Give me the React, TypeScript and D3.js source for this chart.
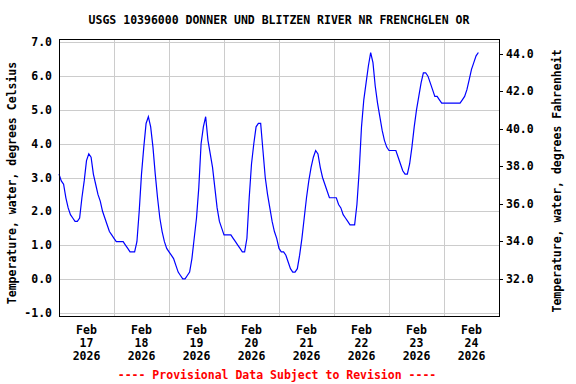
import React from "react";
import * as d3 from "d3";

const title = "USGS 10396000 DONNER UND BLITZEN RIVER NR FRENCHGLEN OR";
const startDate = new Date(2026, 1, 17, 0, 0);
const endDate = new Date(2026, 1, 25, 0, 0);
const dayLabels = ["17", "18", "19", "20", "21", "22", "23", "24"];
const celsiusTicks = [-1, 0, 1, 2, 3, 4, 5, 6, 7];
const fahrenheitTicks = [32, 34, 36, 38, 40, 42, 44];

// hourly water temperature, degrees Celsius
const feb17 = [3.1, 2.9, 2.8, 2.4, 2.1, 1.9, 1.8, 1.7, 1.7, 1.8, 2.4, 2.9, 3.5, 3.7, 3.6, 3.1, 2.8, 2.5, 2.3, 2.0, 1.8, 1.6, 1.4, 1.3];
const feb18 = [1.2, 1.1, 1.1, 1.1, 1.1, 1.0, 0.9, 0.8, 0.8, 0.8, 1.1, 2.0, 3.1, 3.9, 4.6, 4.8, 4.5, 3.9, 3.1, 2.4, 1.8, 1.4, 1.1, 0.9];
const feb19 = [0.8, 0.7, 0.6, 0.4, 0.2, 0.1, 0.0, 0.0, 0.1, 0.2, 0.6, 1.2, 1.8, 2.7, 4.0, 4.5, 4.8, 4.1, 3.7, 3.3, 2.7, 2.1, 1.7, 1.5];
const feb20 = [1.3, 1.3, 1.3, 1.3, 1.2, 1.1, 1.0, 0.9, 0.8, 0.8, 1.2, 2.4, 3.4, 4.0, 4.5, 4.6, 4.6, 3.8, 3.0, 2.5, 2.1, 1.7, 1.4, 1.2];
const feb21 = [0.9, 0.8, 0.8, 0.7, 0.5, 0.3, 0.2, 0.2, 0.3, 0.7, 1.2, 1.8, 2.4, 2.9, 3.3, 3.6, 3.8, 3.7, 3.3, 3.0, 2.8, 2.6, 2.4, 2.4];
const feb22 = [2.4, 2.4, 2.2, 2.1, 1.9, 1.8, 1.7, 1.6, 1.6, 1.6, 2.2, 3.2, 4.5, 5.3, 5.8, 6.3, 6.7, 6.4, 5.7, 5.2, 4.8, 4.4, 4.1, 3.9];
const feb23 = [3.8, 3.8, 3.8, 3.8, 3.6, 3.4, 3.2, 3.1, 3.1, 3.4, 3.9, 4.5, 5.0, 5.4, 5.8, 6.1, 6.1, 6.0, 5.8, 5.6, 5.4, 5.4, 5.3, 5.2];
const feb24 = [5.2, 5.2, 5.2, 5.2, 5.2, 5.2, 5.2, 5.2, 5.3, 5.4, 5.6, 5.9, 6.2, 6.4, 6.6, 6.7];

const days = [feb17, feb18, feb19, feb20, feb21, feb22, feb23, feb24];

const W = 576;
const H = 384;
const left = 59;
const right = 499;
const top = 39;
const bottom = 316;
const FONT = "'DejaVu Sans Mono', monospace";

export default function App() {
  const x = d3.scaleTime().domain([startDate, endDate]).range([left, right]);
  const y = d3.scaleLinear().domain([-1.1, 7.1]).range([bottom, top]);
  const yF = d3.scaleLinear().domain([-1.1 * 1.8 + 32, 7.1 * 1.8 + 32]).range([bottom, top]);

  const points: [Date, number][] = [];
  days.forEach((vals, di) => {
    vals.forEach((v, h) => {
      points.push([d3.timeHour.offset(d3.timeDay.offset(startDate, di), h), v]);
    });
  });

  const line = d3
    .line<[Date, number]>()
    .x((d) => x(d[0]))
    .y((d) => y(d[1]))
    .curve(d3.curveLinear);

  const dayTicks = d3.timeDay.range(startDate, d3.timeDay.offset(endDate, 1));
  const noonTicks = dayLabels.map((_, i) => d3.timeHour.offset(d3.timeDay.offset(startDate, i), 12));

  const textStyle = { fontFamily: FONT, fontWeight: "bold" as const, fontSize: "11.5px" };

  return (
    <div style={{ position: "absolute", left: 0, top: 0 }}>
      <svg width={W} height={H} style={{ display: "block", background: "#fff" }}>
        <rect x={0} y={0} width={W} height={H} fill="#fff" />
        {/* grid */}
        {celsiusTicks.map((t) => (
          <line key={"h" + t} x1={left} x2={right} y1={Math.round(y(t)) + 0.5} y2={Math.round(y(t)) + 0.5} stroke="#cccccc" strokeWidth={1} />
        ))}
        {dayTicks.map((d, i) => (
          <line key={"v" + i} x1={Math.round(x(d)) + 0.5} x2={Math.round(x(d)) + 0.5} y1={top} y2={bottom} stroke="#cccccc" strokeWidth={1} />
        ))}
        {/* data */}
        <path d={line(points) || ""} fill="none" stroke="#0000ff" strokeWidth={1.2} />
        {/* frame */}
        <rect x={left + 0.5} y={top + 0.5} width={right - left} height={bottom - top} fill="none" stroke="#000" strokeWidth={1} />
        {/* left axis labels */}
        {celsiusTicks.map((t) => (
          <text key={"lc" + t} x={52} y={y(t) + 4} textAnchor="end" style={textStyle} fill="#000">
            {t.toFixed(1)}
          </text>
        ))}
        {/* right axis */}
        {fahrenheitTicks.map((t) => (
          <g key={"rf" + t}>
            <line x1={right} x2={right + 4} y1={Math.round(yF(t)) + 0.5} y2={Math.round(yF(t)) + 0.5} stroke="#000" />
            <text x={506} y={yF(t) + 4} textAnchor="start" style={textStyle} fill="#000">
              {t.toFixed(1)}
            </text>
          </g>
        ))}
        {/* x labels */}
        {noonTicks.map((d, i) => (
          <g key={"xl" + i}>
            <text x={x(d)} y={334} textAnchor="middle" style={textStyle} fill="#000">Feb</text>
            <text x={x(d)} y={347} textAnchor="middle" style={textStyle} fill="#000">{dayLabels[i]}</text>
            <text x={x(d)} y={360} textAnchor="middle" style={textStyle} fill="#000">2026</text>
          </g>
        ))}
        {/* titles */}
        <text x={(left + right) / 2} y={24} textAnchor="middle" style={textStyle} fill="#000">{title}</text>
        <text transform={`translate(16,183) rotate(-90)`} textAnchor="middle" style={textStyle} fill="#000">
          Temperature, water, degrees Celsius
        </text>
        <text transform={`translate(561,181) rotate(-90)`} textAnchor="middle" style={textStyle} fill="#000">
          Temperature, water, degrees Fahrenheit
        </text>
        <text x={277} y={379} textAnchor="middle" style={textStyle} fill="#ff0000">
          ---- Provisional Data Subject to Revision ----
        </text>
      </svg>
    </div>
  );
}
